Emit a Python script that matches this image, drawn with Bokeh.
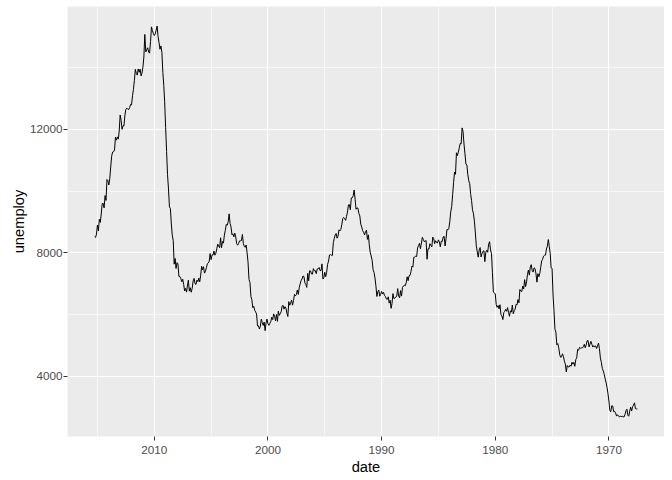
import pandas as pd
from bokeh.plotting import figure
from bokeh.models import Range1d, FixedTicker, ColumnDataSource
from bokeh.embed import file_html
from bokeh.resources import INLINE

# monthly US unemployment (thousands), Jul 1967 - Apr 2015
unemploy = [
    2944, 2945, 2958, 3143, 3066, 3018,
    2878, 3001, 2877, 2709, 2740, 2938, 2883, 2768, 2686, 2689, 2715, 2685,
    2718, 2692, 2712, 2758, 2713, 2816, 2868, 2856, 3040, 3049, 2856, 2884,
    3201, 3453, 3635, 3797, 3919, 4071, 4175, 4256, 4456, 4591, 4898, 5076,
    4986, 4903, 4987, 4959, 4996, 4949, 5035, 5134, 5042, 4954, 5161, 5154,
    5019, 4928, 5038, 4959, 4922, 4923, 4913, 4939, 4849, 4875, 4602, 4543,
    4326, 4452, 4394, 4459, 4329, 4363, 4305, 4305, 4350, 4144, 4396, 4489,
    4644, 4731, 4634, 4618, 4705, 4927, 5063, 5022, 5437, 5523, 6140, 6636,
    7501, 7520, 7978, 8210, 8433, 8220, 8127, 7928, 7923, 7897, 7794, 7744,
    7534, 7326, 7230, 7330, 7053, 7322, 7490, 7518, 7380, 7430, 7620, 7545,
    7280, 7443, 7307, 7059, 6911, 7134, 6829, 6925, 6751, 6763, 6815, 6386,
    6489, 6318, 6337, 6180, 6127, 6028, 6309, 6080, 6125, 5947, 6077, 6228,
    6109, 6173, 6109, 6069, 5840, 5959, 5996, 6320, 6190, 6296, 6238, 6325,
    6683, 6702, 6729, 7358, 7984, 8098, 8363, 8281, 8021, 8088, 8023, 7718,
    8071, 8051, 7982, 7869, 8174, 8098, 7863, 8036, 8230, 8646, 9029, 9267,
    9397, 9705, 9895, 10244, 10335, 10538, 10849, 10881, 11217, 11529, 11938, 12051,
    11534, 11545, 11408, 11268, 11154, 11246, 10548, 10623, 10282, 9887, 9499, 9331,
    9008, 8791, 8746, 8762, 8456, 8226, 8537, 8519, 8367, 8381, 8198, 8358,
    8423, 8321, 8339, 8395, 8302, 8460, 8513, 8196, 8248, 8298, 8128, 8138,
    7795, 8402, 8383, 8364, 8439, 8508, 8319, 8135, 8310, 8243, 8159, 7883,
    7892, 7865, 7862, 7542, 7574, 7398, 7268, 7261, 7102, 7227, 7035, 6936,
    6953, 6929, 6876, 6601, 6779, 6546, 6605, 6843, 6604, 6568, 6537, 6518,
    6682, 6359, 6205, 6468, 6375, 6577, 6495, 6511, 6590, 6630, 6725, 6667,
    6752, 6651, 6598, 6797, 6742, 6590, 6922, 7188, 7368, 7459, 7764, 7901,
    8015, 8265, 8586, 8439, 8736, 8692, 8586, 8666, 8722, 8842, 8931, 9198,
    9283, 9454, 9460, 9415, 9744, 10040, 9850, 9787, 9781, 9398, 9565, 9557,
    9325, 9183, 9056, 9110, 9149, 9121, 8930, 8763, 8714, 8750, 8542, 8477,
    8630, 8583, 8470, 8331, 7915, 7927, 7946, 7933, 7734, 7632, 7375, 7230,
    7375, 7187, 7153, 7645, 7430, 7427, 7527, 7484, 7478, 7328, 7426, 7423,
    7491, 7313, 7318, 7415, 7423, 7095, 7337, 6882, 6979, 7031, 7236, 7253,
    7158, 7102, 7000, 6873, 6655, 6799, 6655, 6608, 6656, 6454, 6308, 6476,
    6368, 6306, 6422, 5941, 6047, 6212, 6259, 6179, 6300, 6280, 6100, 6032,
    5976, 6111, 5783, 6004, 5796, 5951, 6025, 5838, 5915, 5778, 5716, 5653,
    5708, 5858, 5733, 5481, 5758, 5651, 5747, 5853, 5625, 5534, 5639, 5634,
    6023, 6089, 6141, 6271, 6226, 6484, 6583, 7042, 7142, 7694, 8003, 8258,
    8182, 8215, 8304, 8599, 8399, 8393, 8390, 8304, 8251, 8307, 8520, 8640,
    8520, 8618, 8588, 8842, 8957, 9266, 9011, 8896, 8921, 8732, 8576, 8317,
    8370, 8167, 8491, 8170, 8212, 8286, 8136, 7990, 7927, 8061, 7932, 7934,
    7784, 7980, 7737, 7672, 7651, 7524, 7406, 7345, 7553, 7453, 7566, 7279,
    7064, 7184, 7072, 7120, 6980, 7001, 7175, 7091, 6847, 6727, 6872, 6762,
    7116, 6927, 6731, 6850, 6766, 6979, 7149, 7067, 7170, 7237, 7240, 7645,
    7685, 7497, 7822, 7637, 8395, 8575, 8937, 9438, 9494, 10074, 10538, 11286,
    12058, 12898, 13426, 13853, 14499, 14707, 14601, 14814, 15009, 15352, 15219, 15098,
    15046, 15113, 15202, 15325, 14849, 14474, 14512, 14648, 14579, 14516, 15081, 14348,
    14013, 13820, 13737, 13957, 13855, 13962, 13763, 13818, 13948, 13594, 13302, 13093,
    12797, 12813, 12713, 12646, 12660, 12692, 12656, 12471, 12115, 12124, 12005, 12298,
    12471, 11950, 11689, 11760, 11654, 11751, 11335, 11279, 11270, 11136, 10787, 10404,
    10202, 10349, 10380, 9702, 9859, 9460, 9608, 9599, 9262, 8990, 9090, 8717,
    8903, 8610, 8504, 8526,
]
dates = pd.date_range("1967-07-01", periods=len(unemploy), freq="MS")
x_ticks = [1970, 1980, 1990, 2000, 2010]
x_minor = [1965, 1975, 1985, 1995, 2005, 2015]
x_labels = ["1970", "1980", "1990", "2000", "2010"]
y_ticks = [4000, 8000, 12000]
y_minor = [2000, 6000, 10000, 14000]

def dec_year(d):
    start = pd.Timestamp(year=d.year, month=1, day=1)
    end = pd.Timestamp(year=d.year + 1, month=1, day=1)
    return d.year + (d - start) / (end - start)

xs = [dec_year(d) for d in dates]
src = ColumnDataSource(dict(x=xs, y=unemploy))

xmin, xmax = min(xs), max(xs)
xpad = (xmax - xmin) * 0.05
ymin, ymax = min(unemploy), max(unemploy)
ypad = (ymax - ymin) * 0.05

p = figure(frame_width=597, frame_height=430, output_backend="svg", toolbar_location=None,
           x_range=Range1d(xmax + xpad, xmin - xpad),
           y_range=Range1d(ymin - ypad, ymax + ypad),
           min_border_left=67, min_border_right=0, min_border_top=6, min_border_bottom=36)
p.outline_line_color = None
p.background_fill_color = "#EBEBEB"
p.border_fill_color = "white"

p.line("x", "y", source=src, line_color="black", line_width=1)

p.xaxis.ticker = FixedTicker(ticks=x_ticks, minor_ticks=x_minor)
p.xaxis.major_label_overrides = {t: l for t, l in zip(x_ticks, x_labels)}
p.yaxis.ticker = FixedTicker(ticks=y_ticks, minor_ticks=y_minor)
p.yaxis.major_label_overrides = {t: str(t) for t in y_ticks}

for ax in (p.xaxis[0], p.yaxis[0]):
    ax.axis_line_color = None
    ax.minor_tick_line_color = None
    ax.major_tick_line_color = "#333333"
    ax.major_tick_line_width = 1
    ax.major_tick_in = 0
    ax.major_tick_out = 4
    ax.major_label_text_font = "Liberation Sans"
    ax.major_label_text_font_size = "11.7px"
    ax.major_label_text_color = "#4D4D4D"
    ax.axis_label_text_font = "Liberation Sans"
    ax.axis_label_text_font_size = "14.7px"
    ax.axis_label_text_font_style = "normal"
    ax.axis_label_text_color = "black"

p.yaxis.major_label_standoff = 1
p.yaxis.axis_label_standoff = 0
p.xaxis.major_label_standoff = 5
p.xaxis.axis_label_standoff = 2

p.xaxis.axis_label = "date"
p.yaxis.axis_label = "unemploy"

for g in (p.xgrid[0], p.ygrid[0]):
    g.grid_line_color = "white"
    g.grid_line_width = 1.1
    g.minor_grid_line_color = "white"
    g.minor_grid_line_width = 0.6

open("out.html", "w").write(file_html(p, INLINE))
